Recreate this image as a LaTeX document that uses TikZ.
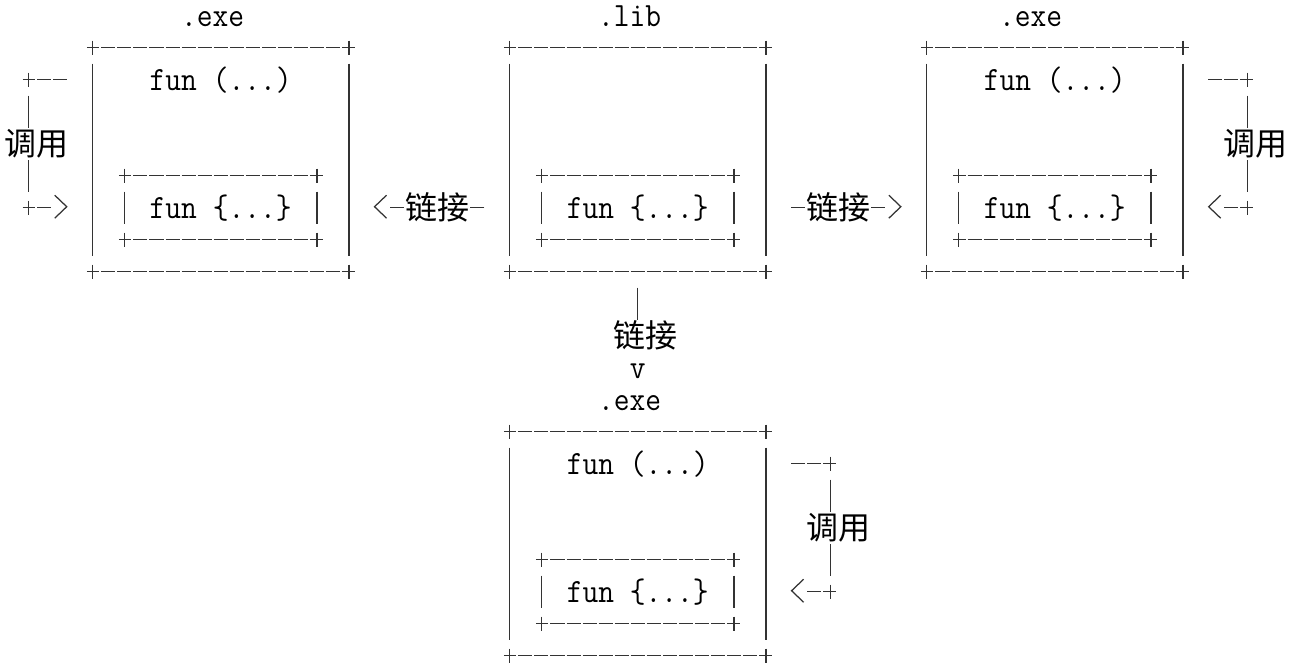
\documentclass[tikz,border=0pt]{standalone}
\usepackage{fontspec}
\usepackage{graphicx}
\newfontfamily\cjkfont{Noto Sans CJK SC}
\usetikzlibrary{calc}
\newcommand\mtxt[1]{\scalebox{0.9}[1]{#1}}
\tikzset{
  ln/.style={draw=black!80, line width=1.25pt},
  bd/.style={ln, dash pattern=on 14.04pt off 2pt, dash phase=1.5pt},
  cl/.style={ln, dash pattern=on 14.04pt off 2pt, dash phase=0pt},
  mono/.style={font=\fontsize{34}{34}\selectfont\ttfamily, text=black, inner sep=0pt, anchor=base},
  cjk/.style={font=\fontsize{32}{32}\selectfont\cjkfont, text=black, inner sep=0pt, anchor=center},
  chevR/.pic={\draw[ln] (-5.5pt,11.5pt) -- (6.5pt,0pt) -- (-5.5pt,-11.5pt);},
  chevL/.pic={\draw[ln] (5.5pt,11.5pt) -- (-6.5pt,0pt) -- (5.5pt,-11.5pt);},
}
\newcommand\asciibox[5]{%
  \node[inner sep=0pt, outer sep=0pt, minimum width={(#4-#2)*16.04pt}, minimum height={(#5-#3)*32pt}] (#1) at ({(#2+#4)/2},{(#3+#5)/2}) {};
  \draw[bd] ([xshift=-5.5pt]#1.north west) -- ([xshift=6pt]#1.north east);
  \draw[bd] ([xshift=-5.5pt]#1.south west) -- ([xshift=6pt]#1.south east);
  \draw[ln] ([yshift=-16pt]#1.north west) -- ([yshift=16pt]#1.south west);
  \draw[ln] ([yshift=-16pt]#1.north east) -- ([yshift=16pt]#1.south east);
  \foreach \k in {north west,north east,south west,south east}
    \draw[ln] ([yshift=7pt]#1.\k) -- ([yshift=-7pt]#1.\k);
}
\begin{document}
\begin{tikzpicture}[x=16.04pt, y=-32pt]
\useasboundingbox (-0.7544,-0.4906) rectangle (80.04,20.259);

% boxes
\asciibox{L}{5}{1}{21}{8}
\asciibox{Li}{7}{5}{19}{7}
\asciibox{C}{31}{1}{47}{8}
\asciibox{Ci}{33}{5}{45}{7}
\asciibox{R}{57}{1}{73}{8}
\asciibox{Ri}{59}{5}{71}{7}
\asciibox{B}{31}{13}{47}{20}
\asciibox{Bi}{33}{17}{45}{19}

% headings
\node[mono] (Lh) at (12.5,0.344) {\mtxt{.exe}};
\node[mono] (Ch) at (38.5,0.344) {\mtxt{.lib}};
\node[mono] (Rh) at (63.5,0.344) {\mtxt{.exe}};
\node[mono] (Bh) at (38.5,12.344) {\mtxt{.exe}};

% contents
\node[mono] (Lf) at (13,2.344) {\mtxt{fun (...)}};
\node[mono] (Rf) at (65,2.344) {\mtxt{fun (...)}};
\node[mono] (Bf) at (39,14.344) {\mtxt{fun (...)}};
\node[mono] (Lg) at (13,6.344) {\mtxt{fun \{...\}}};
\node[mono] (Cg) at (39,6.344) {\mtxt{fun \{...\}}};
\node[mono] (Rg) at (65,6.344) {\mtxt{fun \{...\}}};
\node[mono] (Bg) at (39,18.344) {\mtxt{fun \{...\}}};

% left call bracket
\coordinate (La) at (1,2); \coordinate (La3) at (3,2);
\coordinate (Lb) at (1,6); \coordinate (Lb2) at (2,6); \coordinate (Lb3) at (3,6);
\node[cjk] (Lcall) at (1.5,4) {调用};
\draw[bd] ([xshift=-5.5pt]La) -- ([xshift=7pt]La3);
\draw[ln] ([yshift=7pt]La) -- ([yshift=-7pt]La);
\draw[ln] ([yshift=-16pt]La) -- ([yshift=-48pt]La);
\draw[ln] ([yshift=16pt]Lb) -- ([yshift=48pt]Lb);
\draw[bd] ([xshift=-5.5pt]Lb) -- ([xshift=7pt]Lb2);
\draw[ln] ([yshift=7pt]Lb) -- ([yshift=-7pt]Lb);
\pic at ([yshift=1pt]Lb3) {chevR};

% right call bracket
\coordinate (Ra) at (77,2); \coordinate (Ra3) at (75,2);
\coordinate (Rb) at (77,6); \coordinate (Rb2) at (76,6); \coordinate (Rb3) at (75,6);
\node[cjk] (Rcall) at (77.5,4) {调用};
\draw[bd] ([xshift=5.5pt]Ra) -- ([xshift=-7pt]Ra3);
\draw[ln] ([yshift=7pt]Ra) -- ([yshift=-7pt]Ra);
\draw[ln] ([yshift=-16pt]Ra) -- ([yshift=-48pt]Ra);
\draw[ln] ([yshift=16pt]Rb) -- ([yshift=48pt]Rb);
\draw[bd] ([xshift=5.5pt]Rb) -- ([xshift=-7pt]Rb2);
\draw[ln] ([yshift=7pt]Rb) -- ([yshift=-7pt]Rb);
\pic at ([yshift=1pt]Rb3) {chevL};

% bottom call bracket
\coordinate (Ba) at (51,14); \coordinate (Ba3) at (49,14);
\coordinate (Bb) at (51,18); \coordinate (Bb2) at (50,18); \coordinate (Bb3) at (49,18);
\node[cjk] (Bcall) at (51.5,16) {调用};
\draw[bd] ([xshift=5.5pt]Ba) -- ([xshift=-7pt]Ba3);
\draw[ln] ([yshift=7pt]Ba) -- ([yshift=-7pt]Ba);
\draw[ln] ([yshift=-16pt]Ba) -- ([yshift=-48pt]Ba);
\draw[ln] ([yshift=16pt]Bb) -- ([yshift=48pt]Bb);
\draw[bd] ([xshift=5.5pt]Bb) -- ([xshift=-7pt]Bb2);
\draw[ln] ([yshift=7pt]Bb) -- ([yshift=-7pt]Bb);
\pic at ([yshift=1pt]Bb3) {chevL};

% link lib -> left exe
\coordinate (k1) at (29,6); \coordinate (k2) at (24,6); \coordinate (k3) at (23,6);
\draw[cl] ([xshift=7.04pt]k1) -- node[cjk, fill=white] (lkL) {链接} ([xshift=-7pt]k2);
\pic at ([yshift=1pt]k3) {chevL};

% link lib -> right exe
\coordinate (m1) at (49,6); \coordinate (m2) at (54,6); \coordinate (m3) at (55,6);
\draw[cl] ([xshift=-7pt]m1) -- node[cjk, fill=white] (lkR) {链接} ([xshift=7.04pt]m2);
\pic at ([yshift=1pt]m3) {chevR};

% link lib -> bottom exe
\draw[ln] ([yshift=-16pt]C.south) -- ([yshift=-48pt]C.south);
\node[cjk] (lkB) at (39.5,10) {链接};
\node[mono] (vB) at (39,11.344) {\mtxt{v}};
\end{tikzpicture}
\end{document}
